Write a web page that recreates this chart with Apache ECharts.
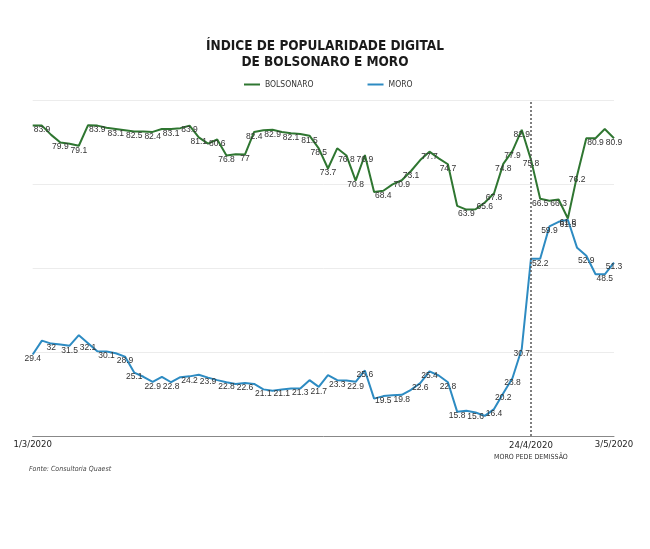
<!DOCTYPE html>
<html>
<head>
<meta charset="utf-8">
<script src="https://cdn.jsdelivr.net/npm/echarts@6/dist/echarts.min.js"></script>
<style>
html,body{margin:0;padding:0;background:#fff;}
#c{width:650px;height:549px;}
</style>
</head>
<body>
<div id="c"></div>
<script>
const categories = [
 '1/3/2020','2/3/2020','3/3/2020','4/3/2020','5/3/2020','6/3/2020','7/3/2020','8/3/2020','9/3/2020','10/3/2020',
 '11/3/2020','12/3/2020','13/3/2020','14/3/2020','15/3/2020','16/3/2020','17/3/2020','18/3/2020','19/3/2020','20/3/2020',
 '21/3/2020','22/3/2020','23/3/2020','24/3/2020','25/3/2020','26/3/2020','27/3/2020','28/3/2020','29/3/2020','30/3/2020',
 '31/3/2020','1/4/2020','2/4/2020','3/4/2020','4/4/2020','5/4/2020','6/4/2020','7/4/2020','8/4/2020','9/4/2020',
 '10/4/2020','11/4/2020','12/4/2020','13/4/2020','14/4/2020','15/4/2020','16/4/2020','17/4/2020','18/4/2020','19/4/2020',
 '20/4/2020','21/4/2020','22/4/2020','23/4/2020','24/4/2020','25/4/2020','26/4/2020','27/4/2020','28/4/2020','29/4/2020',
 '30/4/2020','1/5/2020','2/5/2020','3/5/2020'
];
const tickLabels = ['1/3/2020', '24/4/2020', '3/5/2020'];
const eventDate = '24/4/2020';
const eventText = 'MORO PEDE DEMISSÃO';

const bolsonaro = [
 83.9, 83.9, 81.7, 79.9, 79.6, 79.1, 84.0, 83.9, 83.4, 83.1,
 82.8, 82.5, 82.5, 82.4, 83.1, 83.1, 83.3, 83.9, 81.1, 79.6,
 80.6, 76.8, 77.1, 77.0, 82.4, 82.8, 82.9, 82.4, 82.1, 81.9,
 81.5, 78.5, 73.7, 78.5, 76.8, 70.8, 76.9, 68.1, 68.4, 69.9,
 70.9, 73.1, 75.7, 77.7, 76.1, 74.7, 64.8, 63.9, 64.0, 65.6,
 67.8, 74.8, 77.9, 82.9, 75.8, 66.5, 66.0, 66.3, 61.8, 72.0,
 80.9, 80.9, 83.1, 80.9
];
const moro = [
 29.4, 32.7, 32.0, 31.8, 31.5, 34.0, 32.1, 30.2, 30.1, 29.7,
 28.9, 25.1, 24.1, 22.9, 24.1, 22.8, 24.0, 24.2, 24.6, 23.9,
 23.3, 22.8, 22.4, 22.6, 22.4, 21.1, 20.8, 21.1, 21.3, 21.3,
 23.3, 21.7, 24.5, 23.3, 23.2, 22.9, 25.6, 18.9, 19.5, 19.7,
 19.8, 21.0, 22.6, 25.4, 24.4, 22.8, 15.8, 16.0, 15.6, 14.8,
 16.4, 20.2, 23.8, 30.7, 52.2, 52.2, 59.9, 61.0, 61.5, 54.8,
 52.9, 48.5, 48.5, 51.3
];
// labelled points (index) and their printed text
const bolsonaroLabelAt = [1,3,5,7,9,11,13,15,17,18,20,21,23,24,26,28,30,31,32,34,35,36,38,40,41,43,45,47,49,50,51,52,53,54,55,57,58,59,61,63];
const bolsonaroLabelText = ['83.9','79.9','79.1','83.9','83.1','82.5','82.4','83.1','83.9','81.1','80.6','76.8','77','82.4','82.9','82.1','81.5','78.5','73.7','76.8','70.8','76.9','68.4','70.9','73.1','77.7','74.7','63.9','65.6','67.8','74.8','77.9','82.9','75.8','66.5','66.3','61.8','76.2','80.9','80.9'];
const moroLabelAt = [0,2,4,6,8,10,11,13,15,17,19,21,23,25,27,29,31,33,35,36,38,40,42,43,45,46,48,50,51,52,53,55,56,58,60,62,63];
const moroLabelText = ['29.4','32','31.5','32.1','30.1','28.9','25.1','22.9','22.8','24.2','23.9','22.8','22.6','21.1','21.1','21.3','21.7','23.3','22.9','25.6','19.5','19.8','22.6','25.4','22.8','15.8','15.6','16.4','20.2','23.8','30.7','52.2','59.9','61.5','52.9','48.5','51.3'];

const NARROW = '"Liberation Sans Narrow", "DejaVu Sans Condensed", "Roboto", sans-serif';
const LABELF = '"Liberation Sans", Arial, sans-serif';

function buildData(values, at, text) {
  return values.map((v, i) => {
    const k = at.indexOf(i);
    return {
      value: v,
      label: k >= 0 ? { show: true, formatter: text[k] } : { show: false }
    };
  });
}

const chart = echarts.init(document.getElementById('c'), null, { renderer: 'canvas' });
chart.setOption({
  animation: false,
  backgroundColor: '#fff',
  title: {
    text: 'ÍNDICE DE POPULARIDADE DIGITAL\nDE BOLSONARO E MORO',
    left: 'center',
    top: 33,
    textStyle: { fontFamily: NARROW, fontSize: 13.5, fontWeight: 900, color: '#1a1a1a', lineHeight: 16 }
  },
  legend: {
    data: ['BOLSONARO', 'MORO'],
    left: 239,
    top: 75,
    icon: 'rect',
    itemWidth: 16,
    itemHeight: 2,
    itemGap: 54,
    textStyle: { fontFamily: NARROW, fontSize: 8.5, color: '#333' }
  },
  grid: { left: 32.7, right: 36, top: 100, bottom: 113, containLabel: false },
  xAxis: {
    type: 'category',
    data: categories,
    boundaryGap: false,
    axisLine: { lineStyle: { color: '#888', width: 1 } },
    axisTick: { show: false },
    axisLabel: {
      margin: 4,
      interval: (idx, val) => tickLabels.indexOf(categories[idx]) >= 0,
      color: '#222',
      fontFamily: NARROW,
      fontSize: 9.5,
      formatter: (val) => val === eventDate ? '{a|' + val + '}\n{b|' + eventText + '}' : val,
      rich: {
        a: { fontFamily: NARROW, fontSize: 9.5, color: '#222', lineHeight: 12 },
        b: { fontFamily: NARROW, fontSize: 7, color: '#333', lineHeight: 10 }
      }
    }
  },
  yAxis: {
    type: 'value',
    min: 10, max: 90, interval: 20,
    axisLabel: { show: false },
    axisLine: { show: false },
    axisTick: { show: false },
    splitLine: { lineStyle: { color: '#ececec', width: 1 } }
  },
  series: [
    {
      name: 'BOLSONARO',
      type: 'line',
      data: buildData(bolsonaro, bolsonaroLabelAt, bolsonaroLabelText),
      symbol: 'circle', symbolSize: 0, showSymbol: true,
      lineStyle: { color: '#2f7631', width: 2 },
      itemStyle: { color: '#2f7631' },
      label: { position: 'bottom', distance: 0, fontFamily: LABELF, fontSize: 8.5, color: '#333' },
      emphasis: { disabled: true },
      z: 3,
      markLine: {
        silent: true,
        symbol: 'none',
        label: { show: false },
        lineStyle: { color: '#555', type: [2, 2], width: 1.5 },
        data: [{ xAxis: eventDate }]
      }
    },
    {
      name: 'MORO',
      type: 'line',
      data: buildData(moro, moroLabelAt, moroLabelText),
      symbol: 'circle', symbolSize: 0, showSymbol: true,
      lineStyle: { color: '#2d8bc2', width: 2 },
      itemStyle: { color: '#2d8bc2' },
      label: { position: 'bottom', distance: 0, fontFamily: LABELF, fontSize: 8.5, color: '#333' },
      emphasis: { disabled: true },
      z: 2
    }
  ],
  graphic: [
    {
      type: 'text',
      left: 29,
      top: 466,
      style: { text: 'Fonte: Consultoria Quaest', fontFamily: NARROW, fontStyle: 'italic', fontSize: 7, fill: '#444' }
    }
  ]
});
</script>
</body>
</html>
